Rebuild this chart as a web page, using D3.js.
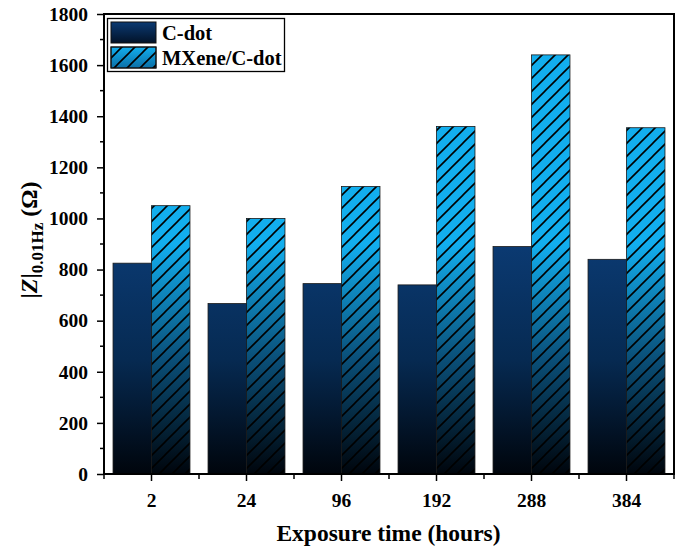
<!DOCTYPE html>
<html>
<head>
<meta charset="utf-8">
<script src="https://cdn.jsdelivr.net/npm/d3@7"></script>
<style>
  html, body { margin: 0; padding: 0; background: #fff; }
  svg { display: block; font-family: "Liberation Serif", "Times New Roman", serif; }
</style>
</head>
<body>
<svg id="chart" width="683" height="551"></svg>
<script>
// Exposure times (hours) on the x axis
const categories = ["2", "24", "96", "192", "288", "384"];
// |Z| at 0.01 Hz (Ω) per coating
const cdotValues = [825, 667, 745, 740, 890, 840];
const mxeneValues = [1050, 1000, 1125, 1360, 1640, 1355];
const seriesNames = ["C-dot", "MXene/C-dot"];
const yTicks = [0, 200, 400, 600, 800, 1000, 1200, 1400, 1600, 1800];

const svg = d3.select("#chart");
const margin = { left: 104, top: 14, right: 9, bottom: 77 };
const W = 683, H = 551;
const plotW = W - margin.left - margin.right;
const plotH = H - margin.top - margin.bottom;

const x = d3.scaleBand().domain(categories).range([margin.left, margin.left + plotW]).paddingInner(0.19).paddingOuter(0.095);
const xs = d3.scaleBand().domain(seriesNames).range([0, x.bandwidth()]);
const y = d3.scaleLinear().domain([0, 1800]).range([margin.top + plotH, margin.top]);

const defs = svg.append("defs");
// vertical shading shared by all bars (fades to near-black toward the baseline)
function shade(id, top, mid) {
  const g = defs.append("linearGradient").attr("id", id)
    .attr("gradientUnits", "userSpaceOnUse")
    .attr("x1", 0).attr("x2", 0).attr("y1", y(1800)).attr("y2", y(0));
  g.append("stop").attr("offset", 0).attr("stop-color", top);
  g.append("stop").attr("offset", 0.5).attr("stop-color", top);
  g.append("stop").attr("offset", 0.75).attr("stop-color", mid);
  g.append("stop").attr("offset", 1).attr("stop-color", "#00050c");
}
shade("gCdot", "#0b3a72", "#062a52");
shade("gMx", "#12aeee", "#0a4f78");

// legend swatch shading (local)
function shadeLocal(id, top, bottom) {
  const g = defs.append("linearGradient").attr("id", id).attr("x1", 0).attr("x2", 0).attr("y1", 0).attr("y2", 1);
  g.append("stop").attr("offset", 0).attr("stop-color", top);
  g.append("stop").attr("offset", 1).attr("stop-color", bottom);
}
shadeLocal("lCdot", "#0b3a72", "#021228");
shadeLocal("lMx", "#12aeee", "#0b6fa6");

const hatch = defs.append("pattern").attr("id", "hatch")
  .attr("patternUnits", "userSpaceOnUse").attr("width", 13).attr("height", 13);
hatch.append("path").attr("d", "M-3,3 L3,-3 M0,13 L13,0 M10,16 L16,10")
  .attr("stroke", "#000").attr("stroke-width", 1.6);

// bars
const groups = svg.append("g").selectAll("g").data(categories).join("g")
  .attr("transform", d => `translate(${x(d)},0)`);

groups.append("rect")
  .attr("x", xs("C-dot")).attr("width", xs.bandwidth())
  .attr("y", (d, i) => y(cdotValues[i]))
  .attr("height", (d, i) => y(0) - y(cdotValues[i]))
  .attr("fill", "url(#gCdot)").attr("stroke", "#1a1a1a").attr("stroke-width", 0.8);

groups.append("rect")
  .attr("x", xs("MXene/C-dot")).attr("width", xs.bandwidth())
  .attr("y", (d, i) => y(mxeneValues[i]))
  .attr("height", (d, i) => y(0) - y(mxeneValues[i]))
  .attr("fill", "url(#gMx)");
groups.append("rect")
  .attr("x", xs("MXene/C-dot")).attr("width", xs.bandwidth())
  .attr("y", (d, i) => y(mxeneValues[i]))
  .attr("height", (d, i) => y(0) - y(mxeneValues[i]))
  .attr("fill", "url(#hatch)").attr("stroke", "#1a1a1a").attr("stroke-width", 0.8);

// y axis with minor ticks
const yAxis = d3.axisLeft(y).tickValues(yTicks).tickSize(7).tickPadding(9).tickFormat(d3.format("d"));
const yg = svg.append("g").attr("transform", `translate(${margin.left},0)`).call(yAxis);
const yMinor = d3.range(100, 1800, 200);
svg.append("g").selectAll("line").data(yMinor).join("line")
  .attr("x1", margin.left - 4).attr("x2", margin.left)
  .attr("y1", d => y(d)).attr("y2", d => y(d))
  .attr("stroke", "#000").attr("stroke-width", 1.5);

// x axis: major ticks at groups, minor at group boundaries
const xAxis = d3.axisBottom(x).tickSize(7).tickPadding(12);
const xg = svg.append("g").attr("transform", `translate(0,${y(0)})`).call(xAxis);
const step = x.step();
const bounds = d3.range(0, categories.length + 1).map(i => margin.left + i * step);
svg.append("g").selectAll("line").data(bounds).join("line")
  .attr("x1", d => d).attr("x2", d => d)
  .attr("y1", y(0)).attr("y2", y(0) + 5)
  .attr("stroke", "#000").attr("stroke-width", 1.5);

[yg, xg].forEach(g => {
  g.select(".domain").remove();
  g.selectAll(".tick line").attr("stroke", "#000").attr("stroke-width", 1.5);
  g.selectAll(".tick text").attr("fill", "#000").style("font-size", "19.5px").style("font-weight", "bold")
    .style("font-family", "'Liberation Serif', serif");
});

// frame
svg.append("rect").attr("x", margin.left).attr("y", margin.top)
  .attr("width", plotW).attr("height", plotH)
  .attr("fill", "none").attr("stroke", "#000").attr("stroke-width", 2);

// axis titles
svg.append("text").attr("x", margin.left + plotW / 2 - 0.5).attr("y", 541)
  .attr("text-anchor", "middle").style("font-size", "23.5px").style("font-weight", "bold")
  .text("Exposure time (hours)");

const yt = svg.append("text").attr("transform", `translate(37,240) rotate(-90)`)
  .attr("text-anchor", "middle").style("font-size", "24px").style("font-weight", "bold");
yt.append("tspan").text("|");
yt.append("tspan").style("font-style", "italic").text("Z");
yt.append("tspan").text("|");
yt.append("tspan").attr("dy", 6).style("font-size", "17px").text("0.01Hz");
yt.append("tspan").attr("dy", -6).text(" (Ω)");

// legend
const lg = svg.append("g");
lg.append("rect").attr("x", 107.5).attr("y", 18.5).attr("width", 177).attr("height", 53)
  .attr("fill", "#fff").attr("stroke", "#000").attr("stroke-width", 1.3);
const items = [
  { name: seriesNames[0], fill: "url(#lCdot)", hatch: false },
  { name: seriesNames[1], fill: "url(#lMx)", hatch: true }
];
items.forEach((it, i) => {
  const yy = 22 + i * 25;
  lg.append("rect").attr("x", 111).attr("y", yy).attr("width", 45).attr("height", 21)
    .attr("fill", it.fill).attr("stroke", "#111").attr("stroke-width", 1);
  if (it.hatch) {
    lg.append("rect").attr("x", 111).attr("y", yy).attr("width", 45).attr("height", 21)
      .attr("fill", "url(#hatch)").attr("stroke", "#111").attr("stroke-width", 1);
  }
  lg.append("text").attr("x", 162).attr("y", yy + 18).style("font-size", "20.5px").style("font-weight", "bold")
    .text(it.name);
});
</script>
</body>
</html>
